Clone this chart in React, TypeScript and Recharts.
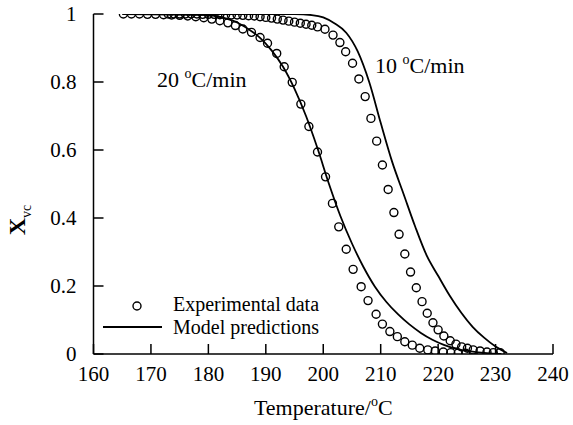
import { ComposedChart, Line, Scatter, XAxis, YAxis } from 'recharts';

const FONT = "'Liberation Serif', 'Times New Roman', serif";

const xTicks = [160, 170, 180, 190, 200, 210, 220, 230, 240];
const yTicks = [0, 0.2, 0.4, 0.6, 0.8, 1];

// 20 °C/min experimental
const exp20Temp = [
  165.2, 166.6, 168.0, 169.4, 170.8, 172.2, 173.6, 175.0, 176.4, 177.8, 179.2, 180.6, 182.0, 183.4, 184.7,
  186.0, 187.5, 189.0, 190.3, 191.9, 193.2, 194.6, 196.1, 197.5, 199.0, 200.4, 201.6, 202.7, 204.0, 205.2,
  206.6, 207.8, 209.2, 210.3, 211.6, 212.9, 214.2, 215.5, 216.8, 218.2, 219.5, 220.9, 222.2, 223.5, 224.8,
];
const exp20Xvc = [
  1.0, 1.0, 1.0, 0.999, 0.999, 0.998, 0.997, 0.996, 0.994, 0.992, 0.989, 0.985, 0.98, 0.974, 0.966,
  0.956, 0.946, 0.931, 0.914, 0.884, 0.845, 0.799, 0.735, 0.669, 0.594, 0.521, 0.443, 0.374, 0.308, 0.249,
  0.198, 0.157, 0.117, 0.088, 0.066, 0.051, 0.036, 0.026, 0.017, 0.012, 0.009, 0.006, 0.004, 0.003, 0.002,
];

// 10 °C/min experimental
const exp10Temp = [
  173, 174, 175, 176, 177, 178, 179, 180, 181, 182, 183, 184, 185, 186, 187, 188, 189, 190, 191, 192, 193,
  194, 195, 196, 197, 198, 199, 200.3, 201.7, 202.9, 203.9, 205.1, 206.2, 207.3, 208.3, 209.3, 210.3, 211.3,
  212.3, 213.2, 214.2, 215.2, 216.2, 217.2, 218.1, 219.1, 220.0, 221.0, 222.1, 223.1, 224.1, 225.1, 226.1,
  227.3, 228.5, 229.6, 230.8,
];
const exp10Xvc = [
  1.0, 1.0, 1.0, 1.0, 1.0, 1.0, 0.999, 0.999, 0.999, 0.998, 0.998, 0.997, 0.997, 0.996, 0.995, 0.994, 0.992,
  0.99, 0.988, 0.985, 0.982, 0.979, 0.976, 0.973, 0.97, 0.967, 0.962, 0.955, 0.938, 0.916, 0.889, 0.855,
  0.809, 0.757, 0.693, 0.626, 0.556, 0.484, 0.416, 0.352, 0.294, 0.241, 0.195, 0.154, 0.12, 0.092, 0.071,
  0.053, 0.039, 0.029, 0.021, 0.017, 0.012, 0.009, 0.006, 0.004, 0.004,
];

// model predictions
const model20Temp = [
  165, 180, 183, 185, 187, 189, 191, 193, 195, 197, 199, 201, 203, 205, 207, 209, 211, 213, 215, 217, 219,
  221, 223, 225, 227, 229, 231,
];
const model20Xvc = [
  1.0, 0.997, 0.987, 0.975, 0.955, 0.93, 0.893, 0.845, 0.78, 0.7, 0.605, 0.5, 0.405, 0.325, 0.256, 0.198,
  0.153, 0.117, 0.087, 0.062, 0.042, 0.027, 0.016, 0.009, 0.005, 0.002, 0.0,
];
const model10Temp = [
  173, 195, 198, 200, 202, 204, 206, 208, 210, 212, 214, 216, 218, 220, 222, 224, 226, 228, 230, 232,
];
const model10Xvc = [
  1.0, 1.0, 0.997, 0.99, 0.972, 0.945, 0.89, 0.8, 0.68, 0.565, 0.47, 0.375, 0.29, 0.23, 0.172, 0.122, 0.08,
  0.048, 0.022, 0.003,
];

const zip = (t: number[], x: number[]) => t.map((T, i) => ({ T, X: x[i] }));

const exp20 = zip(exp20Temp, exp20Xvc);
const exp10 = zip(exp10Temp, exp10Xvc);
const model20 = zip(model20Temp, model20Xvc);
const model10 = zip(model10Temp, model10Xvc);

const tickStyle = { fontFamily: FONT, fontSize: 21, fill: '#000' };
const lineStyle = { stroke: '#000', strokeWidth: 1.5 };

const OpenCircle = (props: any) => {
  const { cx, cy } = props;
  if (cx == null || cy == null) return null;
  return <circle cx={cx} cy={cy} r={4} fill="none" stroke="#000" strokeWidth={1.4} />;
};

const XLabel = ({ viewBox }: any) => {
  const cx = viewBox.x + viewBox.width / 2;
  return (
    <text x={cx} y={viewBox.y + 61} textAnchor="middle" fontFamily={FONT} fontSize={22} fill="#000">
      Temperature/
      <tspan fontSize={14} dy={-9}>o</tspan>
      <tspan dy={9}>C</tspan>
    </text>
  );
};

export default function App() {
  return (
    <div style={{ position: 'absolute', left: 0, top: 0, width: 573, height: 425, background: '#fff' }}>
      <ComposedChart width={573} height={425} margin={{ top: 14, right: 20, bottom: 0, left: 0 }}>
        <XAxis
          xAxisId={0}
          dataKey="T"
          type="number"
          domain={[160, 240]}
          ticks={xTicks}
          allowDataOverflow
          height={71}
          tickSize={-10}
          tickMargin={22}
          tick={tickStyle}
          axisLine={lineStyle}
          tickLine={lineStyle}
          label={{ content: XLabel }}
        />
        <XAxis
          xAxisId="top"
          orientation="top"
          type="number"
          domain={[160, 240]}
          ticks={xTicks}
          height={0}
          tickSize={-10}
          tick={false}
          axisLine={lineStyle}
          tickLine={lineStyle}
        />
        <YAxis
          yAxisId={0}
          dataKey="X"
          type="number"
          domain={[0, 1]}
          ticks={yTicks}
          allowDataOverflow
          width={93.5}
          tickSize={-10}
          tickMargin={27}
          tick={tickStyle}
          axisLine={lineStyle}
          tickLine={lineStyle}
        />
        <YAxis
          yAxisId="right"
          orientation="right"
          type="number"
          domain={[0, 1]}
          ticks={yTicks}
          width={0}
          tickSize={-10}
          tick={false}
          axisLine={lineStyle}
          tickLine={lineStyle}
        />
        <Line data={model20} dataKey="X" type="monotone" stroke="#000" strokeWidth={1.8} dot={false} isAnimationActive={false} />
        <Line data={model10} dataKey="X" type="monotone" stroke="#000" strokeWidth={1.8} dot={false} isAnimationActive={false} />
        <Scatter data={exp20} dataKey="X" shape={OpenCircle} isAnimationActive={false} />
        <Scatter data={exp10} dataKey="X" shape={OpenCircle} isAnimationActive={false} />
      </ComposedChart>
      <svg
        width={573}
        height={425}
        style={{ position: 'absolute', left: 0, top: 0, pointerEvents: 'none' }}
        fontFamily={FONT}
        fill="#000"
      >
        <text transform="translate(25, 220) rotate(-90)" textAnchor="middle">
          <tspan fontSize={24} fontWeight="bold">X</tspan>
          <tspan fontSize={14} dy={6}>vc</tspan>
        </text>
        <text x={157} y={87} fontSize={22}>
          20 <tspan fontSize={14} dy={-9}>o</tspan>
          <tspan dy={9}>C/min</tspan>
        </text>
        <text x={375} y={73} fontSize={22}>
          10 <tspan fontSize={14} dy={-9}>o</tspan>
          <tspan dy={9}>C/min</tspan>
        </text>
        <circle cx={137} cy={306} r={4} fill="none" stroke="#000" strokeWidth={1.4} />
        <text x={173} y={311} fontSize={20}>Experimental data</text>
        <line x1={103} x2={162} y1={327} y2={327} stroke="#000" strokeWidth={1.8} />
        <text x={173} y={334} fontSize={20}>Model predictions</text>
      </svg>
    </div>
  );
}
